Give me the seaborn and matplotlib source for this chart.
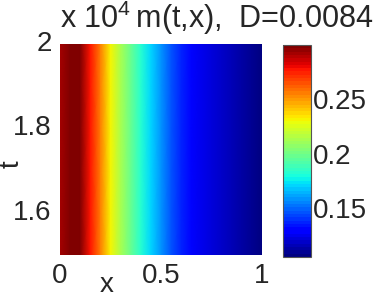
import numpy as np
import pandas as pd
import matplotlib
matplotlib.use("Agg")
import matplotlib.pyplot as plt
import seaborn as sns

# x grid and m(t,x) profile (constant in t)
x_vals = [0.00, 0.05, 0.10, 0.15, 0.20, 0.25, 0.30, 0.35, 0.40, 0.45, 0.50,
          0.55, 0.60, 0.65, 0.70, 0.75, 0.80, 0.85, 0.90, 0.95, 1.00]
m_vals = [0.291, 0.297, 0.299, 0.277, 0.255, 0.232, 0.213, 0.198, 0.183, 0.171, 0.157,
          0.146, 0.137, 0.130, 0.125, 0.121, 0.118, 0.115, 0.112, 0.109, 0.106]
t_vals = [1.5, 1.6, 1.7, 1.8, 1.9, 2.0]

x_ticks = [0, 0.5, 1]
t_ticks = [1.6, 1.8, 2.0]
t_ticklabels = ["1.6", "1.8", "2"]
cbar_ticks = [0.15, 0.2, 0.25]
title = r"x 10$^{4}\,$m(t,x),  D=0.0084"

sns.set_style("white")
plt.rcParams["font.family"] = ["Liberation Sans", "DejaVu Sans"]
plt.rcParams["mathtext.default"] = "regular"

df = pd.DataFrame([m_vals for _ in t_vals], index=t_vals, columns=x_vals)

fig = plt.figure(figsize=(3.75, 2.99), dpi=100)
ax = fig.add_axes([0.16, 0.1472, 0.5387, 0.7057])
cax = fig.add_axes([0.7547, 0.1405, 0.0747, 0.709])

sns.heatmap(df, ax=ax, cbar_ax=cax, cmap=plt.get_cmap("jet", 64),
            vmin=0.105, vmax=0.30, shading="gouraud", linewidths=0)

nx, nt = len(x_vals), len(t_vals)
ax.set_xlim(0, nx - 1)
ax.set_ylim(0, nt - 1)

ax.set_xticks([x_vals.index(v) for v in x_ticks])
ax.set_xticklabels(["0", "0.5", "1"], rotation=0)
ax.set_yticks([t_vals.index(v) for v in t_ticks])
ax.set_yticklabels(t_ticklabels, rotation=0)
ax.tick_params(axis="both", labelsize=20, direction="in", length=3, pad=6)
for s in ax.spines.values():
    s.set_visible(False)

ax.set_xlabel("x", fontsize=20)
ax.xaxis.set_label_coords(0.233, -0.142)
ax.xaxis.label.set_verticalalignment("center")
ax.set_ylabel("t", fontsize=20)
ax.yaxis.set_label_coords(-0.175, 0.43)

cbar = ax.collections[0].colorbar
cbar.set_ticks(cbar_ticks)
cbar.set_ticklabels(["0.15", "0.2", "0.25"])
cbar.ax.tick_params(labelsize=20, direction="in", length=3, pad=1,
                    left=True, right=True)
cbar.outline.set_edgecolor("#555555")
cbar.outline.set_linewidth(0.8)

fig.text(60 / 375, 1 - 28 / 299, title, fontsize=22, ha="left", va="baseline")

fig.savefig("out.png", dpi=100)
